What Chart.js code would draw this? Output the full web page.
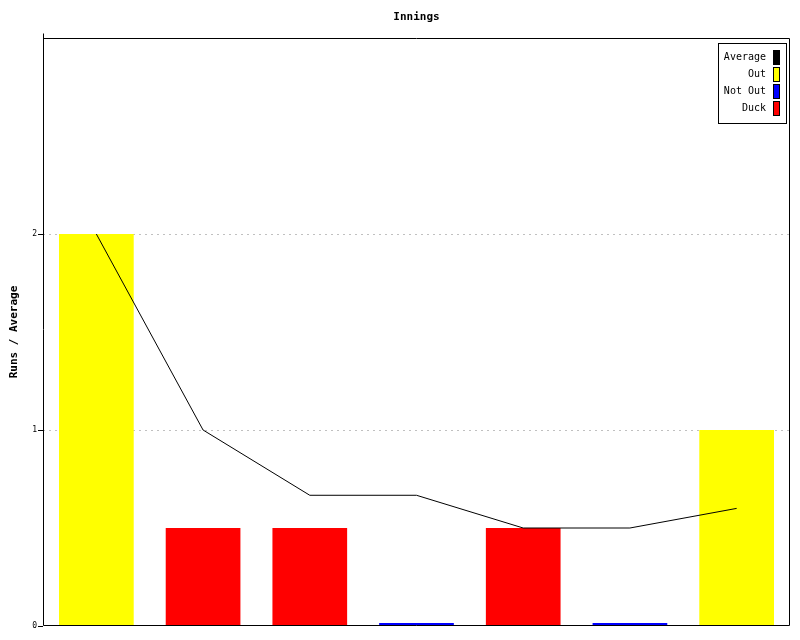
<!DOCTYPE html>
<html>
<head>
<meta charset="utf-8">
<script src="https://cdn.jsdelivr.net/npm/chart.js@4/dist/chart.umd.min.js"></script>
<style>
  html, body { margin: 0; padding: 0; background: #fff; }
  #wrap { width: 800px; height: 640px; }
</style>
</head>
<body>
<div id="wrap"><canvas id="chart" width="800" height="640"></canvas></div>
<script>
// innings data
const innings = ['1', '2', '3', '4', '5', '6', '7'];
const outRuns = [2, null, null, null, null, null, 1];
const notOutRuns = [null, null, null, 0.015, null, 0.015, null];
const duckRuns = [null, 0.5, 0.5, null, 0.5, null, null];
const average = [2, 1, 0.667, 0.667, 0.5, 0.5, 0.6];
const yTicks = [0, 1, 2];
const chartTitle = 'Innings';

const MONO = '"DejaVu Sans Mono", "Liberation Mono", monospace';

// frame around plot + little stub above the y axis, title centred on the plot
const framePlugin = {
  id: 'frame',
  afterDraw(chart) {
    const { ctx, chartArea: a } = chart;
    const l = Math.round(a.left) + 0.5;
    const r = Math.round(a.right) - 0.5;
    const t = Math.round(a.top) + 0.5;
    const b = Math.round(a.bottom) - 0.5;
    ctx.save();
    ctx.strokeStyle = '#000';
    ctx.lineWidth = 1;
    ctx.beginPath();
    ctx.moveTo(l, t - 5);
    ctx.lineTo(l, b);
    ctx.lineTo(r, b);
    ctx.lineTo(r, t);
    ctx.lineTo(l, t);
    ctx.stroke();
    ctx.fillStyle = '#000';
    ctx.font = 'bold 11px ' + MONO;
    ctx.textAlign = 'center';
    ctx.textBaseline = 'middle';
    ctx.fillText(chartTitle, (a.left + a.right) / 2, 17);
    ctx.restore();
  },
};

// legend box in the top right corner, text first then the swatch
const boxLegend = {
  id: 'boxLegend',
  afterDraw(chart) {
    const { ctx, chartArea: a } = chart;
    const sets = chart.data.datasets;
    const right = Math.round(a.right) - 3;
    const left = right - 69;
    const top = Math.round(a.top) + 5;
    const rowH = 17;
    const height = 81;
    ctx.save();
    ctx.fillStyle = '#fff';
    ctx.fillRect(left, top, right - left, height);
    ctx.strokeStyle = '#000';
    ctx.lineWidth = 1;
    ctx.strokeRect(left + 0.5, top + 0.5, right - left - 1, height - 1);
    ctx.font = '10px ' + MONO;
    ctx.textAlign = 'right';
    ctx.textBaseline = 'middle';
    sets.forEach((ds, i) => {
      const cy = top + 14 + i * rowH;
      ctx.fillStyle = '#000';
      ctx.fillText(ds.label, right - 21, cy);
      ctx.fillStyle = ds.swatch;
      ctx.fillRect(right - 14, cy - 7, 7, 15);
      ctx.strokeRect(right - 14 + 0.5, cy - 7 + 0.5, 6, 14);
    });
    ctx.restore();
  },
};

new Chart(document.getElementById('chart'), {
  data: {
    labels: innings,
    datasets: [
      {
        type: 'line',
        label: 'Average',
        data: average,
        borderColor: '#000',
        borderWidth: 1,
        pointRadius: 0,
        tension: 0,
        swatch: '#000',
        order: 0,
      },
      {
        type: 'bar',
        label: 'Out',
        data: outRuns,
        backgroundColor: '#ffff00',
        swatch: '#ffff00',
        order: 1,
      },
      {
        type: 'bar',
        label: 'Not Out',
        data: notOutRuns,
        backgroundColor: '#0000ff',
        swatch: '#0000ff',
        order: 1,
      },
      {
        type: 'bar',
        label: 'Duck',
        data: duckRuns,
        backgroundColor: '#ff0000',
        swatch: '#ff0000',
        order: 1,
      },
    ],
  },
  options: {
    responsive: false,
    animation: false,
    layout: { padding: { left: 0, right: 10, top: 38, bottom: 14 } },
    datasets: {
      bar: { grouped: false, barPercentage: 0.7, categoryPercentage: 1 },
    },
    plugins: {
      legend: { display: false },
      tooltip: { enabled: false },
      title: { display: false },
    },
    scales: {
      x: {
        ticks: { display: false },
        grid: { display: false },
        border: { display: false },
        afterFit(scale) { scale.height = 0; },
      },
      y: {
        min: 0,
        max: 3,
        afterBuildTicks(scale) {
          scale.ticks = yTicks.concat([3]).map((v) => ({ value: v }));
        },
        ticks: {
          color: '#000',
          font: { family: MONO, size: 8 },
          padding: 1,
          callback: (v) => (yTicks.includes(v) ? String(v) : ''),
        },
        grid: {
          color: (c) => (c.tick && (c.tick.value === 1 || c.tick.value === 2) ? '#c0c0c0' : 'rgba(0,0,0,0)'),
          tickBorderDash: [],
          tickColor: (c) => (c.tick && c.tick.value < 3 ? '#000' : 'rgba(0,0,0,0)'),
          tickLength: 5,
          lineWidth: 1,
        },
        border: { display: false, dash: [2, 4] },
        title: {
          display: true,
          text: 'Runs / Average',
          color: '#000',
          font: { family: MONO, size: 11, weight: 'bold' },
          padding: { top: 8, bottom: 4 },
        },
        afterFit(scale) { scale.width = 43; },
      },
    },
  },
  plugins: [framePlugin, boxLegend],
});
</script>
</body>
</html>
